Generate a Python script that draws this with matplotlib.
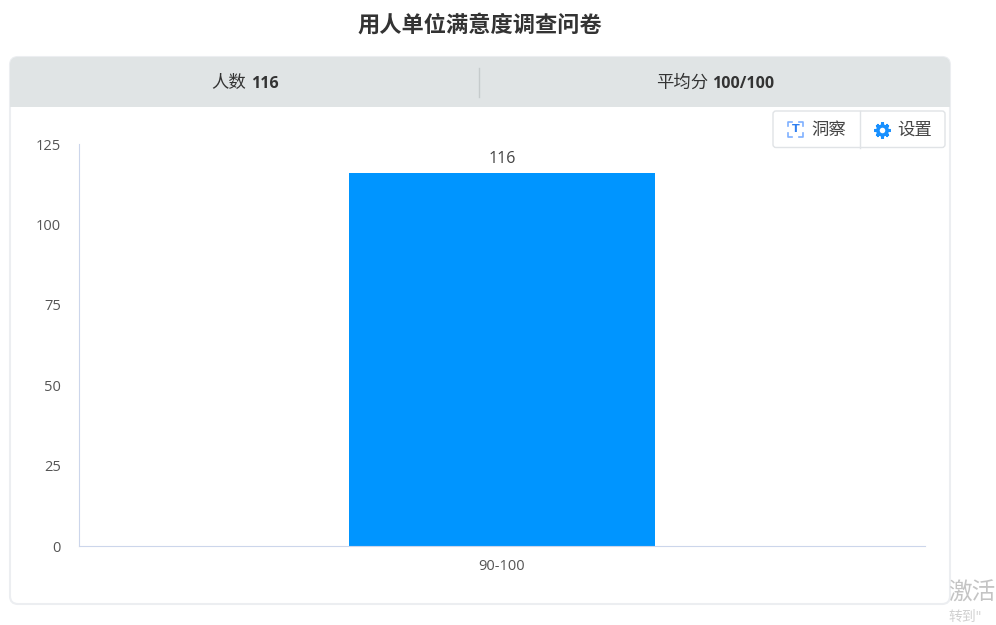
import matplotlib
matplotlib.use('Agg')
import matplotlib.pyplot as plt
from matplotlib.patches import FancyBboxPatch, Rectangle

# latin digits come from Open Sans, chinese falls through to Noto
plt.rcParams['font.family'] = ['Open Sans', 'Noto Sans CJK SC', 'DejaVu Sans']

title = '用人单位满意度调查问卷'
categories = ['90-100']
counts = [116]
yticks = [0, 25, 50, 75, 100, 125]
people_label = '人数'
people_total = '116'
avg_label = '平均分'
avg_score = '100/100'

W, H = 996, 625
fig = plt.figure(figsize=(W / 100, H / 100), dpi=100, facecolor='white')

# page layer in pixel coords, y going down
bg = fig.add_axes([0, 0, 1, 1], zorder=0)
bg.set_xlim(0, W)
bg.set_ylim(H, 0)
bg.axis('off')

# card and header
card = FancyBboxPatch((10, 57), 940, 547, boxstyle='round,pad=0,rounding_size=8',
                      fc='white', ec='#eceef1', lw=1.5)
bg.add_patch(card)
head = FancyBboxPatch((10, 57), 940, 50, boxstyle='round,pad=0,rounding_size=8',
                      fc='#e0e4e5', ec='none')
bg.add_patch(head)
bg.add_patch(Rectangle((10, 90), 940, 17, fc='#e0e4e5', ec='none'))
bg.plot([479, 479], [68, 97], color='#c6cbcc', lw=1)

bg.text(480, 26, title, ha='center', va='center', fontsize=16, fontweight='bold', color='#333333')
bg.text(246, 84, people_label, ha='right', va='center', fontsize=12.5, color='#333333')
bg.text(251, 84, people_total, ha='left', va='center', fontsize=11.5, fontweight='bold', color='#333333')
bg.text(708, 84, avg_label, ha='right', va='center', fontsize=12.5, color='#333333')
bg.text(712, 84, avg_score, ha='left', va='center', fontsize=11.5, fontweight='bold', color='#333333')

# buttons top right
btn = FancyBboxPatch((773, 111), 172, 36.5, boxstyle='round,pad=0,rounding_size=3',
                     fc='white', ec='#e0e3e6', lw=1, zorder=5)
bg.add_patch(btn)
bg.plot([859.5, 859.5], [111, 147.5], color='#e0e3e6', lw=1, zorder=6)
# bracket-style icon for the first button
for xs, ys in [([788, 788, 792], [126, 122, 122]), ([799, 803, 803], [122, 122, 126]),
               ([788, 788, 792], [133, 137, 137]), ([799, 803, 803], [137, 137, 133])]:
    bg.plot(xs, ys, color='#7fb0ff', lw=1.2, zorder=6)
bg.text(795.5, 129.5, 'T', ha='center', va='center', fontsize=8, fontweight='bold',
        color='#2f7ff0', family='DejaVu Sans', zorder=6)
bg.text(811, 131, '洞察', ha='left', va='center', fontsize=12.5, color='#444444', zorder=6)
# gear icon
bg.plot([881.5], [129.5], marker='h', ms=10, color='#1890ff', mec='none', zorder=6)
bg.plot([881.5], [129.5], marker=(8, 2, 0), ms=11.5, mew=2.2, color='#1890ff', zorder=6)
bg.plot([881.5], [129.5], marker='o', ms=4, color='white', mec='none', zorder=7)
bg.text(897, 131, '设置', ha='left', va='center', fontsize=12.5, color='#444444', zorder=6)

# watermark at the right edge
bg.text(948, 594, '激活', ha='left', va='center', fontsize=17, color='#c4c4c4', clip_on=True)
bg.text(948, 617, '转到"', ha='left', va='center', fontsize=10, color='#d0d0d0', clip_on=True)

# chart
ax = fig.add_axes([79 / W, 1 - 546 / H, (925 - 79) / W, (546 - 144) / H], zorder=1)
ax.patch.set_alpha(0)
ax.bar(categories, counts, width=0.361, color='#0095ff')
ax.set_xlim(-0.5, 0.5)
ax.set_ylim(0, 125)
ax.set_yticks(yticks)
ax.tick_params(axis='both', length=0, labelsize=10.5, labelcolor='#555555')
ax.tick_params(axis='y', pad=13)
ax.tick_params(axis='x', pad=9)
for side in ['top', 'right']:
    ax.spines[side].set_visible(False)
ax.spines['left'].set_color('#ccd6eb')
ax.spines['bottom'].set_color('#ccd6eb')
for i, v in enumerate(counts):
    ax.annotate(str(v), (i, v), xytext=(0, 4), textcoords='offset points', ha='center',
                va='bottom', fontsize=11.5, color='#444444')

fig.savefig('out.png', dpi=100)
